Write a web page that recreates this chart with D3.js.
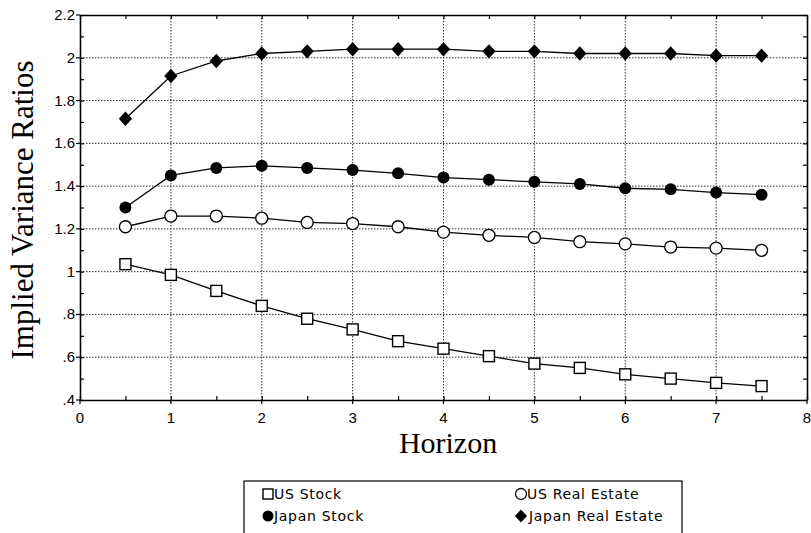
<!DOCTYPE html>
<html>
<head>
<meta charset="utf-8">
<script src="https://cdn.jsdelivr.net/npm/d3@7"></script>
<style>
  body { margin: 0; background: #fff; }
  svg { display: block; }
  .tick-label { font-family: "Liberation Sans", Arial, sans-serif; font-size: 15px; fill: #000; }
  .title { font-family: "Liberation Serif", "Times New Roman", serif; fill: #000; }
  .legend-text { font-family: "DejaVu Sans", sans-serif; font-size: 14px; letter-spacing: 0.7px; fill: #000; }
</style>
</head>
<body>
<svg id="chart" width="811" height="533"></svg>
<script>
// Horizon values (x)
const horizons = [0.5, 1, 1.5, 2, 2.5, 3, 3.5, 4, 4.5, 5, 5.5, 6, 6.5, 7, 7.5];

// Series values
const usStock = [1.035, 0.985, 0.91, 0.84, 0.78, 0.73, 0.675, 0.64, 0.605, 0.57, 0.55, 0.52, 0.50, 0.48, 0.465];
const usRealEstate = [1.21, 1.26, 1.26, 1.25, 1.23, 1.225, 1.21, 1.185, 1.17, 1.16, 1.14, 1.13, 1.115, 1.11, 1.10];
const japanStock = [1.30, 1.45, 1.485, 1.495, 1.485, 1.475, 1.46, 1.44, 1.43, 1.42, 1.41, 1.39, 1.385, 1.37, 1.36];
const japanRealEstate = [1.715, 1.915, 1.985, 2.02, 2.03, 2.04, 2.04, 2.04, 2.03, 2.03, 2.02, 2.02, 2.02, 2.01, 2.01];

// Tick labels
const xTicks = [0, 1, 2, 3, 4, 5, 6, 7, 8];
const yTicks = [0.4, 0.6, 0.8, 1, 1.2, 1.4, 1.6, 1.8, 2, 2.2];
const yTickLabels = [".4", ".6", ".8", "1", "1.2", "1.4", "1.6", "1.8", "2", "2.2"];

const series = [
    { name: "US Stock", values: usStock, marker: "square" },
    { name: "Japan Stock", values: japanStock, marker: "dot" },
    { name: "US Real Estate", values: usRealEstate, marker: "circle" },
    { name: "Japan Real Estate", values: japanRealEstate, marker: "diamond" }
];

const svg = d3.select("#chart");
const M = { left: 80, right: 807, top: 15, bottom: 400 };

const x = d3.scaleLinear().domain([0, 8]).range([M.left, M.right]);
const y = d3.scaleLinear().domain([0.4, 2.2]).range([M.bottom, M.top]);

// Dotted grid
const grid = svg.append("g").attr("class", "grid");
grid.selectAll("line.vg")
    .data(d3.range(1, 8))
    .enter().append("line")
    .attr("x1", d => x(d)).attr("x2", d => x(d))
    .attr("y1", M.top).attr("y2", M.bottom)
    .attr("stroke", "#333").attr("stroke-width", 1)
    .attr("stroke-dasharray", "1.5,1.5");
grid.selectAll("line.hg")
    .data([0.6, 0.8, 1, 1.2, 1.4, 1.6, 1.8, 2])
    .enter().append("line")
    .attr("x1", M.left).attr("x2", M.right)
    .attr("y1", d => y(d)).attr("y2", d => y(d))
    .attr("stroke", "#333").attr("stroke-width", 1)
    .attr("stroke-dasharray", "1.5,1.5");

// Frame with inward minor ticks on all four sides
const xMinor = d3.range(0, 8.01, 0.5);
const yMinor = d3.range(0.4, 2.201, 0.1);

function styleAxis(g) {
    g.select(".domain").attr("stroke", "#000").attr("stroke-width", 1.6);
    g.selectAll(".tick line").attr("stroke", "#000").attr("stroke-width", 1.2);
}

svg.append("g").attr("transform", `translate(0,${M.bottom})`)
    .call(d3.axisTop(x).tickValues(xMinor).tickSize(4).tickSizeOuter(0).tickFormat("")).call(styleAxis);
svg.append("g").attr("transform", `translate(${M.left},0)`)
    .call(d3.axisRight(y).tickValues(yMinor).tickSize(4).tickSizeOuter(0).tickFormat("")).call(styleAxis);
svg.append("g").attr("transform", `translate(0,${M.top})`)
    .call(d3.axisBottom(x).tickValues(xMinor).tickSize(4).tickSizeOuter(0).tickFormat("")).call(styleAxis);
svg.append("g").attr("transform", `translate(${M.right},0)`)
    .call(d3.axisLeft(y).tickValues(yMinor).tickSize(4).tickSizeOuter(0).tickFormat("")).call(styleAxis);

// Outer short ticks at the labelled positions
svg.append("g").selectAll("line")
    .data(xTicks).enter().append("line")
    .attr("x1", d => x(d)).attr("x2", d => x(d))
    .attr("y1", M.bottom).attr("y2", M.bottom + 4)
    .attr("stroke", "#000").attr("stroke-width", 1.2);
svg.append("g").selectAll("line")
    .data(yTicks).enter().append("line")
    .attr("x1", M.left - 4).attr("x2", M.left)
    .attr("y1", d => y(d)).attr("y2", d => y(d))
    .attr("stroke", "#000").attr("stroke-width", 1.2);

// Tick labels
svg.append("g").selectAll("text")
    .data(xTicks).enter().append("text")
    .attr("class", "tick-label")
    .attr("x", d => x(d)).attr("y", M.bottom + 23)
    .attr("text-anchor", "middle")
    .text(d => d);
svg.append("g").selectAll("text")
    .data(yTicks).enter().append("text")
    .attr("class", "tick-label")
    .attr("x", M.left - 5).attr("y", d => y(d) + 5)
    .attr("text-anchor", "end")
    .text((d, i) => yTickLabels[i]);

// Axis titles
svg.append("text").attr("class", "title")
    .attr("x", x(4.05)).attr("y", 453)
    .attr("text-anchor", "middle")
    .style("font-size", "30px")
    .text("Horizon");
svg.append("text").attr("class", "title")
    .attr("transform", `translate(33,210) rotate(-90)`)
    .attr("text-anchor", "middle")
    .style("font-size", "31px")
    .text("Implied Variance Ratios");

// Marker drawing
function drawMarker(sel, type, size) {
    if (type === "square") {
        sel.append("rect")
            .attr("x", -size).attr("y", -size)
            .attr("width", size * 2).attr("height", size * 2)
            .attr("fill", "#fff").attr("stroke", "#000").attr("stroke-width", 1.4);
    } else if (type === "circle") {
        sel.append("circle").attr("r", size)
            .attr("fill", "#fff").attr("stroke", "#000").attr("stroke-width", 1.3);
    } else if (type === "dot") {
        sel.append("circle").attr("r", size).attr("fill", "#000");
    } else {
        sel.append("path")
            .attr("d", `M0,${-size * 1.2}L${size * 1.1},0L0,${size * 1.2}L${-size * 1.1},0Z`)
            .attr("fill", "#000");
    }
}

const markerSize = { square: 5.5, circle: 6, dot: 6, diamond: 6 };

const line = d3.line()
    .x((d, i) => x(horizons[i]))
    .y(d => y(d));

series.forEach(s => {
    svg.append("path")
        .datum(s.values)
        .attr("d", line)
        .attr("fill", "none")
        .attr("stroke", "#000")
        .attr("stroke-width", 1.3);
    const pts = svg.append("g").selectAll("g")
        .data(s.values).enter().append("g")
        .attr("transform", (d, i) => `translate(${x(horizons[i])},${y(d)})`);
    pts.each(function() { drawMarker(d3.select(this), s.marker, markerSize[s.marker]); });
});

// Legend
const legend = svg.append("g");
legend.append("rect")
    .attr("x", 244).attr("y", 481)
    .attr("width", 438).attr("height", 60)
    .attr("fill", "#fff").attr("stroke", "#000").attr("stroke-width", 1.2);

const legendItems = [
    { s: series[0], lx: 268, ly: 494 },
    { s: series[1], lx: 268, ly: 516 },
    { s: series[2], lx: 521, ly: 494 },
    { s: series[3], lx: 521, ly: 516 }
];
legendItems.forEach(it => {
    const g = legend.append("g").attr("transform", `translate(${it.lx},${it.ly})`);
    drawMarker(g, it.s.marker, it.s.marker === "square" ? 5 : 5.5);
    g.append("text").attr("class", "legend-text")
        .attr("x", it.s.marker === "diamond" ? 8 : 6).attr("y", 5)
        .text(it.s.name);
});
</script>
</body>
</html>
